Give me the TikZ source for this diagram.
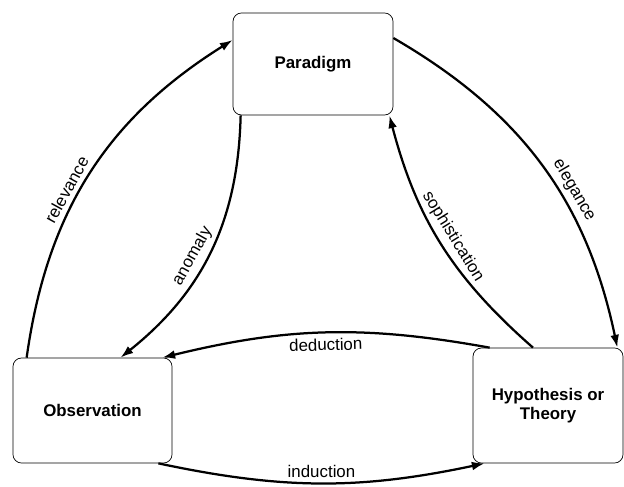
\documentclass[tikz,border=0pt]{standalone}
\usepackage{fontspec}
\setmainfont{Liberation Sans}
\usetikzlibrary{arrows.meta,calc}

\begin{document}
\begin{tikzpicture}[
    box/.style={draw, rounded corners=6pt, line width=0.5pt, align=center, font=\fontsize{12}{14}\selectfont\bfseries},
    arrow/.style={-{Latex[length=3.2mm, width=2.2mm]}, line width=1.6pt},
    lbl/.style={font=\fontsize{12}{14}\selectfont, sloped}
]
\useasboundingbox (0,0) rectangle (15.6,12.15);

% The three stages
\node[box, minimum width=4cm, minimum height=2.55cm] (paradigm) at (7.825,10.55) {Paradigm};
\node[box, minimum width=3.975cm, minimum height=2.625cm] (observation) at (2.3125,1.8875) {Observation};
\node[box, minimum width=3.75cm, minimum height=2.875cm] (hypothesis) at (13.7,2.0125) {Hypothesis or\\Theory};

% Left side: observation <-> paradigm
\draw[arrow] ([xshift=0.35cm]observation.north west) to [bend left=25] node[lbl, above, pos=0.43] {relevance} ([yshift=0.6cm]paradigm.west);
\draw[arrow] ([xshift=0.2cm]paradigm.south west) to [bend left=25] node[lbl, above, pos=0.55] {anomaly} ([xshift=0.7cm]observation.north);

% Right side: paradigm <-> hypothesis
\draw[arrow] ([yshift=0.65cm]paradigm.east) to [bend left=24] node[lbl, above, pos=0.6] {elegance} ([xshift=-0.15cm]hypothesis.north east);
\draw[arrow] ([xshift=-0.375cm]hypothesis.north) to [bend left=17] node[lbl, above] {sophistication} ([xshift=-0.1cm]paradigm.south east);

% Bottom: observation <-> hypothesis
\draw[arrow] ([xshift=0.425cm]hypothesis.north west) to [bend right=12] node[lbl, below] {deduction} ([xshift=-0.25cm]observation.north east);
\draw[arrow] ([xshift=-0.35cm]observation.south east) to [bend right=12] node[lbl, above] {induction} ([xshift=0.3cm]hypothesis.south west);

\end{tikzpicture}
\end{document}
